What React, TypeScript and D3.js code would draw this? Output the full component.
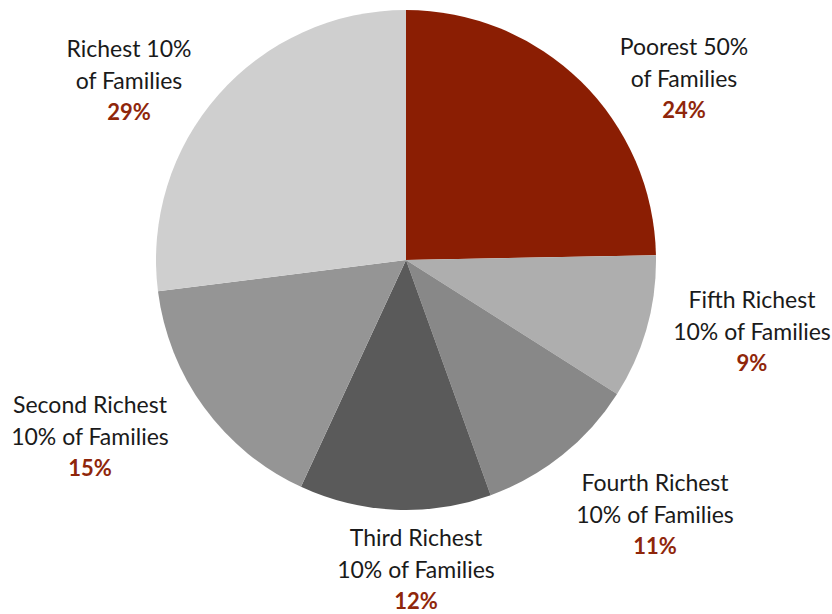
import React from "react";
import * as d3 from "d3";

const categories = [
  "Poorest 50%|of Families",
  "Fifth Richest|10% of Families",
  "Fourth Richest|10% of Families",
  "Third Richest|10% of Families",
  "Second Richest|10% of Families",
  "Richest 10%|of Families",
];
const shares = [24.7, 9.3, 10.5, 12.4, 16.1, 27.0];
const shareLabels = ["24%", "9%", "11%", "12%", "15%", "29%"];
const colors = ["#8b1e03", "#aeaeae", "#888888", "#5a5a5a", "#959595", "#cfcfcf"];

// label block centres (layout)
const labelPos: [number, number][] = [
  [684, 79],
  [752, 332],
  [655, 515],
  [416, 570],
  [90, 437],
  [129, 81],
];

const W = 832;
const H = 614;
const cx = 406;
const cy = 260;
const R = 250;

export default function App() {
  const pie = d3.pie<number>().sort(null).value((d) => d);
  const arcs = pie(shares);
  const arc = d3.arc<d3.PieArcDatum<number>>().innerRadius(0).outerRadius(R);
  const lh = 32;
  return (
    <div style={{ position: "fixed", left: 0, top: 0 }}>
      <svg width={W} height={H} style={{ display: "block", background: "#fff" }}>
        <g transform={`translate(${cx},${cy})`}>
          {arcs.map((a, i) => (
            <path key={i} d={arc(a) || ""} fill={colors[i]} />
          ))}
        </g>
        {categories.map((c, i) => {
          const [x, y] = labelPos[i];
          const lines = c.split("|");
          return (
            <g key={i} fontFamily="Lato, 'Noto Sans', sans-serif" fontSize={23} textAnchor="middle">
              {lines.map((l, j) => (
                <text key={j} x={x} y={y + (j - 1) * lh} dy="0.35em" fill="#1a1a1a">
                  {l}
                </text>
              ))}
              <text x={x} y={y + lh} dy="0.33em" fill="#8f260a" fontWeight={700} fontSize={22}>
                {shareLabels[i]}
              </text>
            </g>
          );
        })}
      </svg>
    </div>
  );
}
